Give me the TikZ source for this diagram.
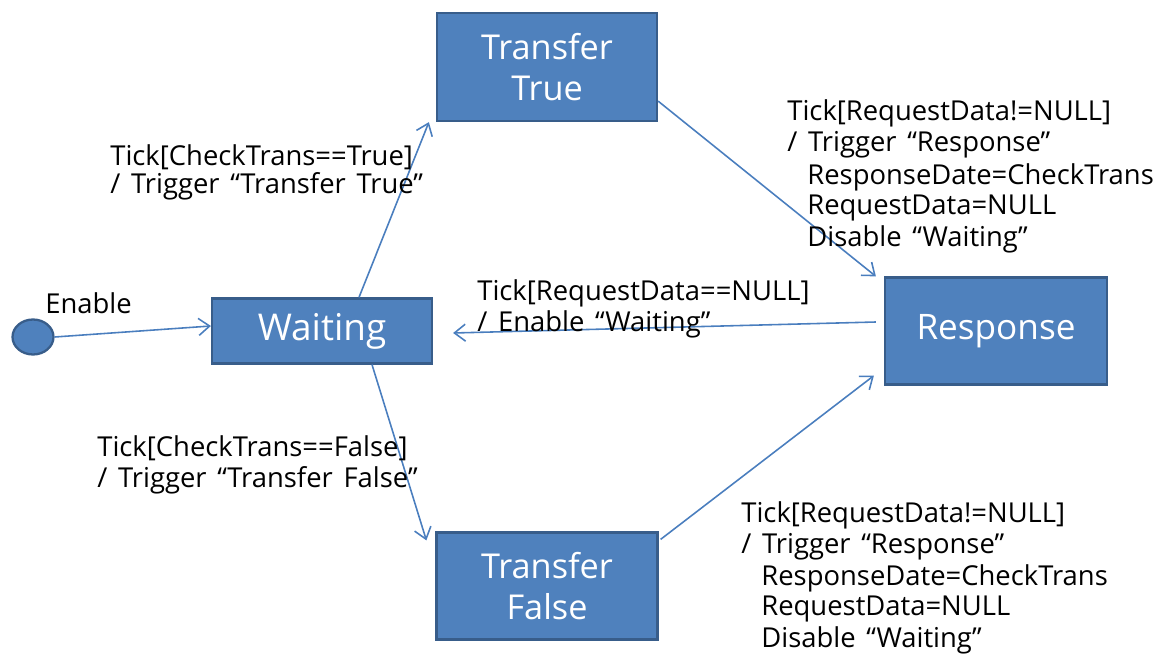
\documentclass[tikz,border=0pt]{standalone}
\usepackage{fontspec}
\setmainfont{Open Sans}
\newfontfamily\lblfam{Open Sans}[WordSpace=1.5]
\usepackage{tikz}
\usetikzlibrary{arrows.meta,positioning,calc,shapes.geometric}
\definecolor{bx}{RGB}{79,129,189}
\definecolor{bxrand}{RGB}{56,93,138}
\definecolor{pijl}{RGB}{74,126,190}
\tikzset{
  state/.style={draw=bxrand,fill=bx,line width=1.3pt,text=white,align=center,inner sep=0pt,font=\fontsize{19.5}{23}\selectfont},
  lbl/.style={anchor=west,inner sep=0pt,font=\lblfam\fontsize{15.6}{18}\selectfont},
  trans/.style={draw=pijl,line width=0.9pt,-{Straight Barb[length=2.2mm,width=3.4mm]}}
}

\begin{document}
\begin{tikzpicture}[x=0.02cm,y=-0.02cm]
  \useasboundingbox (0,0) rectangle (1175,655);

  % states
  \node[state,ellipse,minimum width=0.82cm,minimum height=0.7cm] (init) at (33,337) {};
  \node[state,minimum width=4.4cm,minimum height=1.3cm,font=\fontsize{21}{23}\selectfont] (waiting) at (322,331) {Waiting};
  \node[state,minimum width=4.4cm,minimum height=2.16cm] (ttrue) at (547,67) {Transfer\\True};
  \node[state,minimum width=4.42cm,minimum height=2.14cm] (tfalse) at (547,586) {Transfer\\False};
  \node[state,minimum width=4.44cm,minimum height=2.14cm,font=\fontsize{20}{23}\selectfont] (resp) at (996,331) {Response};

  % transitions
  \draw[trans] (init.east) -- ($(waiting.west)+(0,-5)$);
  \draw[trans] ($(waiting.north)+(37,0)$) -- ($(ttrue.south west)+(-7,0)$);
  \draw[trans] ($(waiting.south)+(50,0)$) -- ($(tfalse.north west)+(-9,9)$);
  \draw[trans] ($(ttrue.south east)+(0,-21)$) -- ($(resp.north west)+(-8,0)$);
  \draw[trans] ($(tfalse.north east)+(2,8)$) -- ($(resp.south west)+(-10,-10)$);
  \draw[trans] ($(resp.west)+(-8,-9)$) -- ($(waiting.east)+(20,2)$);

  % labels
  \node[lbl] (en) at (45,303) {Enable};

  \node[lbl] (ct1) at (110,157) {Tick[CheckTrans==True]};
  \node[lbl] (ct2) at (110,186) {/ Trigger “Transfer True”};

  \node[lbl] (cf1) at (97,448) {Tick[CheckTrans==False]};
  \node[lbl] (cf2) at (97,480) {/ Trigger “Transfer False”};

  \node[lbl] (rn1) at (477,293) {Tick[RequestData==NULL]};
  \node[lbl] (rn2) at (477,324) {/ Enable “Waiting”};

  \node[lbl] (ra1) at (787,113) {Tick[RequestData!=NULL]};
  \node[lbl] (ra2) at (787,145) {/ Trigger “Response”};
  \node[lbl] (ra3) at (807,177) {ResponseDate=CheckTrans};
  \node[lbl] (ra4) at (807,208) {RequestData=NULL};
  \node[lbl] (ra5) at (807,239) {Disable “Waiting”};

  \node[lbl] (rb1) at (741,515) {Tick[RequestData!=NULL]};
  \node[lbl] (rb2) at (741,547) {/ Trigger “Response”};
  \node[lbl] (rb3) at (761,578) {ResponseDate=CheckTrans};
  \node[lbl] (rb4) at (761,609) {RequestData=NULL};
  \node[lbl] (rb5) at (761,640) {Disable “Waiting”};
\end{tikzpicture}
\end{document}
